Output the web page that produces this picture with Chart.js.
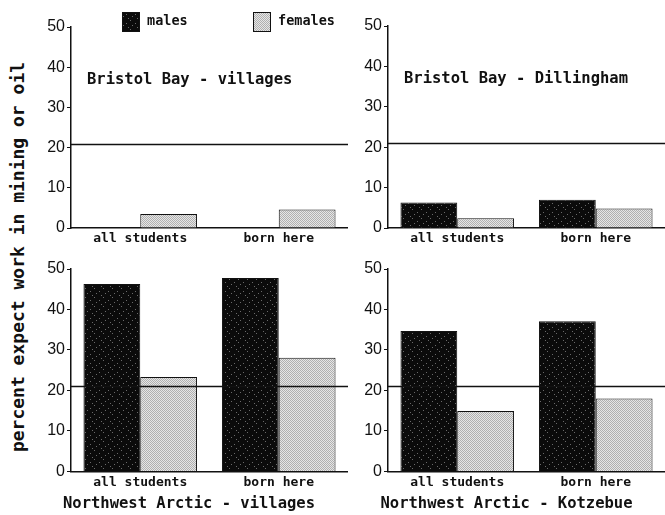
<!DOCTYPE html>
<html>
<head>
<meta charset="utf-8">
<script src="https://cdn.jsdelivr.net/npm/chart.js@4.4.1/dist/chart.umd.min.js"></script>
<style>
    html, body { margin: 0; padding: 0; background: #fff; }
    #wrap { position: relative; width: 665px; height: 515px; overflow: hidden; }
    canvas { position: absolute; }
    #yTitle {
        position: absolute; left: 17px; top: 257px;
        transform: translate(-50%, -50%) rotate(-90deg);
        white-space: nowrap;
        font: bold 18px "DejaVu Sans Mono", monospace;
        color: #111;
    }
</style>
</head>
<body>
<div id="wrap">
    <div id="yTitle">percent expect work in mining or oil</div>
    <canvas id="bbVillages" width="318" height="250" style="left:30px;top:0px"></canvas>
    <canvas id="bbDillingham" width="317" height="250" style="left:348px;top:0px"></canvas>
    <canvas id="nwVillages" width="318" height="265" style="left:30px;top:250px"></canvas>
    <canvas id="nwKotzebue" width="317" height="265" style="left:348px;top:250px"></canvas>
</div>
<script>
const categories = ['all students', 'born here'];
const seriesNames = ['males', 'females'];

const bbVillagesMales = [0, 0];
const bbVillagesFemales = [3.5, 4.6];
const bbDillinghamMales = [6.3, 7.0];
const bbDillinghamFemales = [2.4, 4.8];
const nwVillagesMales = [46.3, 47.8];
const nwVillagesFemales = [23.3, 28.1];
const nwKotzebueMales = [34.7, 37.1];
const nwKotzebueFemales = [14.9, 18.0];

const yMin = 0;
const yMax = 50;
const yStep = 10;
const referenceLevel = 21;

const INK = '#111';
const MONO = '"DejaVu Sans Mono", monospace';

// screen-print style fills
function makePattern(base, dot, size, points) {
    const c = document.createElement('canvas');
    c.width = size;
    c.height = size;
    const g = c.getContext('2d');
    g.fillStyle = base;
    g.fillRect(0, 0, size, size);
    g.fillStyle = dot;
    points.forEach(p => g.fillRect(p[0], p[1], 1, 1));
    return g.createPattern(c, 'repeat');
}

const malesFill = makePattern('#0b0b0b', '#6a6a6a', 9, [[1, 2], [6, 5], [3, 7], [8, 0]]);
const femalesFill = makePattern('#e6e6e6', '#b0b0b0', 2, [[0, 0], [1, 1]]);

const refLinePlugin = {
    id: 'refLine',
    afterDatasetsDraw(chart) {
        const { ctx, chartArea, scales } = chart;
        const y = Math.round(scales.y.getPixelForValue(referenceLevel)) + 0.5;
        ctx.save();
        ctx.strokeStyle = INK;
        ctx.lineWidth = 1.3;
        ctx.beginPath();
        ctx.moveTo(chartArea.left, y);
        ctx.lineTo(chart.width, y);
        ctx.stroke();
        ctx.restore();
    }
};

const innerTitlePlugin = {
    id: 'innerTitle',
    afterDraw(chart, args, opts) {
        if (!opts.text) return;
        const { ctx, chartArea, scales } = chart;
        ctx.save();
        ctx.font = 'bold 15.5px ' + MONO;
        ctx.fillStyle = INK;
        ctx.textBaseline = 'middle';
        ctx.textAlign = 'left';
        ctx.fillText(opts.text, chartArea.left + 16, scales.y.getPixelForValue(36.8));
        ctx.restore();
    }
};

const legendPlugin = {
    id: 'swatchLegend',
    afterDraw(chart) {
        const ctx = chart.ctx;
        const xs = [92, 223];
        ctx.save();
        ctx.font = 'bold 13.5px ' + MONO;
        ctx.textBaseline = 'middle';
        chart.data.datasets.forEach((ds, i) => {
            ctx.fillStyle = ds.backgroundColor;
            ctx.fillRect(xs[i], 12, 18, 20);
            ctx.strokeStyle = INK;
            ctx.lineWidth = 1;
            ctx.strokeRect(xs[i] + 0.5, 12.5, 17, 19);
            ctx.fillStyle = INK;
            ctx.fillText(ds.label, xs[i] + 25, 21);
        });
        ctx.restore();
    }
};

function buildPanel(id, males, females, panel) {
    const ctx = document.getElementById(id).getContext('2d');
    const extra = [refLinePlugin, innerTitlePlugin];
    if (panel.legend) extra.push(legendPlugin);
    return new Chart(ctx, {
        type: 'bar',
        data: {
            labels: categories,
            datasets: [
                { label: seriesNames[0], data: males, backgroundColor: malesFill, borderColor: INK, borderWidth: males.map(v => v > 0 ? 1 : 0) },
                { label: seriesNames[1], data: females, backgroundColor: femalesFill, borderColor: INK, borderWidth: 1 }
            ]
        },
        options: {
            responsive: false,
            animation: false,
            devicePixelRatio: 1,
            layout: { padding: { top: panel.padTop, left: 0, right: 0, bottom: 0 } },
            datasets: { bar: { categoryPercentage: 0.82, barPercentage: 1.0 } },
            scales: {
                x: {
                    grid: { display: false, drawTicks: false },
                    border: { display: true, color: INK, width: 1.5 },
                    ticks: { color: INK, font: { family: MONO, size: 13, weight: 'bold' }, padding: 3, maxRotation: 0 },
                    afterFit: s => { s.height = 22; }
                },
                y: {
                    min: yMin,
                    max: yMax,
                    grid: { display: true, drawOnChartArea: false, drawTicks: true, tickLength: 4, color: INK },
                    border: { display: true, color: INK, width: 1.5 },
                    ticks: { stepSize: yStep, color: INK, font: { family: '"Liberation Sans", Arial, sans-serif', size: 16 }, padding: 2 },
                    afterFit: s => { s.width = panel.axisWidth; }
                }
            },
            plugins: {
                legend: { display: false },
                tooltip: { enabled: false },
                innerTitle: { text: panel.innerTitle || '' },
                title: {
                    display: !!panel.bottomTitle,
                    text: panel.bottomTitle || '',
                    position: 'bottom',
                    color: INK,
                    font: { family: MONO, size: 15.5, weight: 'bold' },
                    padding: { top: 1, bottom: 2 }
                }
            }
        },
        plugins: extra
    });
}

buildPanel('bbVillages', bbVillagesMales, bbVillagesFemales,
    { padTop: 27, axisWidth: 41, innerTitle: 'Bristol Bay - villages', legend: true });
buildPanel('bbDillingham', bbDillinghamMales, bbDillinghamFemales,
    { padTop: 26, axisWidth: 40, innerTitle: 'Bristol Bay - Dillingham' });
buildPanel('nwVillages', nwVillagesMales, nwVillagesFemales,
    { padTop: 19, axisWidth: 41, bottomTitle: 'Northwest Arctic - villages' });
buildPanel('nwKotzebue', nwKotzebueMales, nwKotzebueFemales,
    { padTop: 19, axisWidth: 40, bottomTitle: 'Northwest Arctic - Kotzebue' });
</script>
</body>
</html>
